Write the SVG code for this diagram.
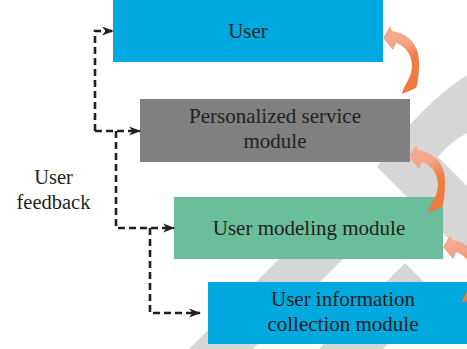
<svg xmlns="http://www.w3.org/2000/svg" xmlns:xlink="http://www.w3.org/1999/xlink" width="467" height="349" viewBox="0 0 467 349">
  <style>
    .lbl { font-family: "Liberation Serif", "Times New Roman", serif; font-size: 21px; fill: #231F20; text-anchor: middle; }
    .side { font-size: 20.5px; }
    .wm { fill: #D6D6D6; }
    .dash { fill: none; stroke: #231F20; stroke-width: 2.6; stroke-dasharray: 7 4; marker-end: url(#head); }
  </style>
  <defs>
    <marker id="head" viewBox="0 0 12 10" refX="11" refY="5" markerWidth="12" markerHeight="10" markerUnits="userSpaceOnUse" orient="auto">
      <path d="M0,0.5 L12,5 L0,9.5 L3.5,5 Z" fill="#231F20"/>
    </marker>
    <linearGradient id="curl" x1="0" y1="0" x2="0.25" y2="1">
      <stop offset="0" stop-color="#F5AE95"/>
      <stop offset="0.38" stop-color="#F4A386"/>
      <stop offset="0.62" stop-color="#EF7E47"/>
      <stop offset="1" stop-color="#EE7A40"/>
    </linearGradient>
    <!-- curved up-left arrow, tip at the origin -->
    <path id="curlArrow" fill="url(#curl)" d="M0,0 L7,-12 L9,-7 C24,-5 36,6 36,24 C36,36 35,45 33,50 L19,56 C20,48 29,40 29,28 C29,16 22,8 13,5 L10,12 Z"/>
  </defs>

  <rect width="467" height="349" fill="#FFFFFF"/>

  <!-- background cycle graphic -->
  <g id="backdrop">
    <path class="wm" d="M467,75 Q420,105 377,167 L467,257 L467,186 L438,157 Q450,142 467,133 Z"/>
    <path class="wm" d="M341.5,196.5 L373.5,228.5 L253,349 L189,349 Z"/>
    <path class="wm" d="M405,263 L437,295 L383,349 L319,349 Z"/>
  </g>

  <g id="user">
    <rect x="113" y="-1" width="270" height="63" fill="#00A9DF"/>
    <text class="lbl" x="248" y="38">User</text>
  </g>
  <g id="personalized-service">
    <rect x="140" y="99" width="270" height="63" fill="#808080"/>
    <text class="lbl" x="275" y="123">Personalized service</text>
    <text class="lbl" x="275" y="148">module</text>
  </g>
  <g id="user-modeling">
    <rect x="174" y="197" width="269" height="62" fill="#6BBE9B"/>
    <text class="lbl" x="309" y="235">User modeling module</text>
  </g>
  <g id="info-collection">
    <rect x="208" y="282" width="270" height="62" fill="#00A9DF"/>
    <text class="lbl" x="343" y="306">User information</text>
    <text class="lbl" x="343" y="331">collection module</text>
  </g>
  <g id="user-feedback">
    <text class="lbl side" x="53.5" y="184">User</text>
    <text class="lbl side" x="53.5" y="209">feedback</text>
  </g>

  <!-- upward flow between layers -->
  <g id="flow">
    <use xlink:href="#curlArrow" href="#curlArrow" transform="translate(383,38)"/>
    <use xlink:href="#curlArrow" href="#curlArrow" transform="translate(409,157)"/>
    <use xlink:href="#curlArrow" href="#curlArrow" transform="translate(443,247)"/>
  </g>

  <g id="connectors">
    <path class="dash" d="M95,131 V31 H113"/>
    <path class="dash" d="M95,131 H140"/>
    <path class="dash" d="M116,131 V228 H174"/>
    <path class="dash" d="M150,228 V313 H200"/>
  </g>
</svg>
